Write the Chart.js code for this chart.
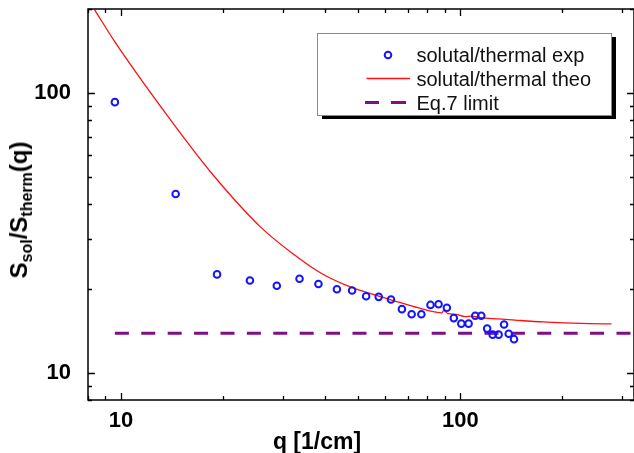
<!DOCTYPE html>
<html><head><meta charset="utf-8">
<script src="https://cdn.jsdelivr.net/npm/chart.js@4"></script>
<style>
html,body{margin:0;padding:0;background:#fff;overflow:hidden;width:634px;height:453px;}
#wrap{position:relative;width:640px;height:453px;}
#ytitle{position:absolute;left:18.7px;top:209.5px;transform:translate(-50%,-50%) rotate(-90deg);font:bold 24px "Liberation Sans",Arial,sans-serif;line-height:24px;height:24px;white-space:nowrap;color:#000;}
#ytitle .s{font-size:16px;position:relative;top:5px;line-height:16px;}
#xtitle{position:absolute;left:317px;top:429.5px;transform:translateX(-50%);font:bold 23px "Liberation Sans",Arial,sans-serif;line-height:23px;height:23px;white-space:nowrap;color:#000;}
</style></head><body>
<div id="wrap"><canvas id="c" width="640" height="453"></canvas>
<div id="ytitle">S<span class="s">sol</span>/S<span class="s">therm</span>(q)</div>
<div id="xtitle">q [1/cm]</div></div>
<script>
// experimental points
const expQ = [9.6, 14.5, 19.2, 24.0, 28.8, 33.6, 38.2, 43.3, 48.0, 52.8, 57.5, 62.5, 67.3, 71.9, 76.8, 81.7, 86.3, 91.3, 95.7, 100.7, 105.8, 110.7, 115.3, 120.0, 124.6, 129.7, 134.6, 138.9, 144.0];
const expS = [92.9, 43.6, 22.5, 21.4, 20.5, 21.7, 20.8, 19.9, 19.7, 18.8, 18.7, 18.3, 16.9, 16.2, 16.2, 17.5, 17.6, 17.1, 15.7, 15.0, 15.0, 16.0, 16.0, 14.4, 13.7, 13.7, 14.9, 13.8, 13.2];
// theoretical curve
const theoQ = [8.37, 9.58, 13.74, 18.62, 25.81, 32.35, 38.7, 46.4, 57.5, 65.9, 75.0, 88.3, 89.3, 92.0, 97.0, 103.4, 108.0, 115.0, 129.6, 145.0, 162.0, 180.0, 203.0, 240.0, 279.0];
const theoS = [198.6, 153.2, 82.8, 51.3, 33.2, 26.5, 22.8, 20.5, 18.8, 17.9, 17.1, 16.4, 16.7, 16.3, 16.2, 15.9, 15.95, 15.75, 15.6, 15.45, 15.3, 15.2, 15.1, 15.0, 14.96];
// Eq.7 limit
const limitQ = [9.6, 330];
const limitS = [13.85, 13.85];
const xTicks = [10, 100];
const yTicks = [10, 100];
const seriesNames = ['solutal/thermal exp', 'solutal/thermal theo', 'Eq.7 limit'];

const FONT = '"Liberation Sans", Arial, sans-serif';
const toXY = (qs, ss) => qs.map((q, i) => ({x: q, y: ss[i]}));

const frameTicks = {
  id: 'frameTicks',
  afterDatasetsDraw(chart) {
    const {ctx, chartArea: a, scales: {x, y}} = chart;
    ctx.save();
    ctx.strokeStyle = '#000';
    ctx.lineWidth = 1.5;
    ctx.strokeRect(a.left, a.top, a.right - a.left, a.bottom - a.top);
    ctx.lineWidth = 1.3;
    const vals = (sc) => {
      const out = [];
      for (const d of [1, 10, 100]) for (let m = 1; m < 10; m++) {
        const v = d * m;
        if (v >= sc.min && v <= sc.max) out.push({v, major: m === 1});
      }
      return out;
    };
    ctx.beginPath();
    for (const t of vals(x)) {
      const p = Math.round(x.getPixelForValue(t.v)) + 0.5;
      const L = t.major ? 7 : 4;
      ctx.moveTo(p, a.bottom); ctx.lineTo(p, a.bottom - L);
      ctx.moveTo(p, a.top); ctx.lineTo(p, a.top + L);
    }
    for (const t of vals(y)) {
      const p = Math.round(y.getPixelForValue(t.v)) + 0.5;
      const L = t.major ? 7 : 4;
      ctx.moveTo(a.left, p); ctx.lineTo(a.left + L, p);
      ctx.moveTo(a.right, p); ctx.lineTo(a.right - L, p);
    }
    ctx.stroke();
    ctx.restore();
  },
  afterDraw(chart) {
    const ctx = chart.ctx;
    const ds = chart.data.datasets;
    const bx = 317, by = 33, bw = 294, bh = 82;
    ctx.save();
    ctx.fillStyle = '#000';
    ctx.fillRect(bx + 5, by + 4, bw, bh);
    ctx.fillStyle = '#fff';
    ctx.fillRect(bx, by, bw, bh);
    ctx.strokeStyle = '#8a8a8a';
    ctx.lineWidth = 1;
    ctx.strokeRect(bx + 0.5, by + 0.5, bw, bh);
    const rows = [55, 78.5, 102.5];
    ctx.strokeStyle = ds[0].borderColor;
    ctx.lineWidth = ds[0].borderWidth;
    ctx.beginPath(); ctx.arc(388, rows[0], ds[0].pointRadius, 0, Math.PI * 2); ctx.stroke();
    ctx.strokeStyle = ds[1].borderColor;
    ctx.lineWidth = ds[1].borderWidth;
    ctx.beginPath(); ctx.moveTo(366.5, rows[1]); ctx.lineTo(410, rows[1]); ctx.stroke();
    ctx.strokeStyle = ds[2].borderColor;
    ctx.lineWidth = ds[2].borderWidth;
    ctx.beginPath();
    ctx.moveTo(365, rows[2]); ctx.lineTo(379, rows[2]);
    ctx.moveTo(391, rows[2]); ctx.lineTo(406, rows[2]);
    ctx.stroke();
    ctx.fillStyle = '#111';
    ctx.font = '20px ' + FONT;
    ctx.textBaseline = 'alphabetic';
    ctx.textAlign = 'left';
    const base = [62, 85.5, 110];
    seriesNames.forEach((n, i) => ctx.fillText(n, 416.5, base[i]));
    ctx.restore();
  }
};

new Chart(document.getElementById('c'), {
  type: 'scatter',
  data: {
    datasets: [
      {label: seriesNames[0], data: toXY(expQ, expS), showLine: false, pointRadius: 3.3, pointBorderWidth: 2,
       borderWidth: 2, borderColor: '#1414ff', pointBackgroundColor: 'rgba(0,0,0,0)', backgroundColor: 'rgba(0,0,0,0)', order: 1},
      {label: seriesNames[1], data: toXY(theoQ, theoS), showLine: true, pointRadius: 0, borderWidth: 1.3,
       borderColor: '#ff1010', cubicInterpolationMode: 'monotone', order: 2},
      {label: seriesNames[2], data: toXY(limitQ, limitS), showLine: true, pointRadius: 0, borderWidth: 3,
       borderColor: '#7f0f84', borderDash: [14, 12.4], order: 3}
    ]
  },
  options: {
    responsive: false,
    devicePixelRatio: 1,
    animation: false,
    layout: {padding: {top: 9, right: 4, left: 0, bottom: 0}},
    plugins: {legend: {display: false}, tooltip: {enabled: false}},
    scales: {
      x: {
        type: 'logarithmic', min: 8, max: 325,
        grid: {display: false}, border: {display: false},
        afterBuildTicks: (s) => { s.ticks = xTicks.map(v => ({value: v, major: true})); },
        afterFit: (s) => { s.height = 53; s.paddingLeft = 0; s.paddingRight = 0; },
        ticks: {color: '#000', font: {family: FONT, size: 22, weight: 'bold'}, padding: 0,
                maxRotation: 0, autoSkip: false, callback: (v) => String(v)}
      },
      y: {
        type: 'logarithmic', min: 8, max: 200,
        grid: {display: false}, border: {display: false},
        afterBuildTicks: (s) => { s.ticks = yTicks.map(v => ({value: v, major: true})); },
        afterFit: (s) => { s.width = 88; s.paddingTop = 0; s.paddingBottom = 0; },
        ticks: {color: '#000', font: {family: FONT, size: 22, weight: 'bold'}, padding: 9,
                autoSkip: false, callback: (v) => String(v)}
      }
    }
  },
  plugins: [frameTicks]
});
</script>
</body></html>
